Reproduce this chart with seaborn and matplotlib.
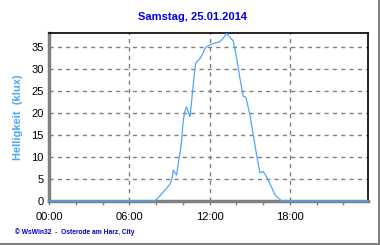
import matplotlib
matplotlib.use("Agg")
import matplotlib.pyplot as plt
from matplotlib.lines import Line2D
import seaborn as sns
import pandas as pd

hours = [0.0, 7.92, 8.3, 8.7, 9.04, 9.2, 9.29, 9.42, 9.54, 9.67, 9.8, 9.92, 10.04, 10.17,
         10.29, 10.42, 10.54, 10.66, 10.79, 10.96, 11.12, 11.29, 11.5, 11.66, 11.85, 12.03,
         12.3, 12.53, 12.75, 12.9, 13.1, 13.28, 13.5, 13.78, 14.03, 14.27, 14.52, 14.72,
         15.02, 15.27, 15.52, 15.77, 16.02, 16.2, 16.39, 16.6, 16.77, 16.95, 17.14, 17.39, 23.83]
lux = [0.0, 0.0, 1.2, 2.6, 3.8, 5.0, 7.0, 6.4, 5.9, 8.6, 11.0, 13.9, 18.4, 20.5,
       21.4, 20.2, 19.2, 22.6, 26.7, 31.3, 31.9, 32.4, 33.5, 34.7, 35.2, 35.5,
       35.8, 36.0, 36.2, 36.6, 37.3, 38.1, 37.3, 36.4, 32.5, 28.0, 23.8, 23.6,
       19.6, 15.1, 10.5, 6.4, 6.7, 5.8, 4.8, 3.4, 2.2, 1.2, 0.7, 0.0, 0.0]
xticks = [0, 6, 12, 18]
xticklabels = ["00:00", "06:00", "12:00", "18:00"]
yticks = [0, 5, 10, 15, 20, 25, 30, 35]

df = pd.DataFrame({"h": hours, "v": lux})

sns.set_theme(style="white")
plt.rcParams["font.family"] = ["Liberation Sans", "DejaVu Sans"]

fig = plt.figure(figsize=(3.8, 2.45), dpi=100)
fig.patch.set_facecolor("white")
ax = fig.add_axes([49/380, 1-201/245, (368-49)/380, (201-33)/245])

ax.grid(True, axis="both", linestyle=(0, (3, 3)), color="#808080", linewidth=1)
ax.set_axisbelow(True)
sns.lineplot(data=df, x="h", y="v", ax=ax, color="#4da6ff", linewidth=0.9,
             clip_on=False, zorder=5)

ax.set_xlim(0, 23.85)
ax.set_ylim(0, 38.2)
ax.set_xticks(xticks)
ax.set_xticklabels(xticklabels)
ax.set_yticks(yticks)
ax.set_xticks([2, 4, 8, 10, 14, 16, 20, 22], minor=True)
ax.tick_params(axis="x", which="both", direction="out", length=3, width=1,
               color="#808080", labelsize=8, pad=5, labelcolor="black", bottom=True)
ax.tick_params(axis="y", which="both", length=0, labelsize=8, pad=4, labelcolor="black", left=False)
ax.set_xlabel("")
ax.set_ylabel("Helligkeit  (klux)", color="#4da6ff", fontsize=8, fontweight="bold", labelpad=6)

for s in ["top", "right"]:
    ax.spines[s].set_color("black")
    ax.spines[s].set_linewidth(1.2)
for s in ["left", "bottom"]:
    ax.spines[s].set_color("#808080")
    ax.spines[s].set_linewidth(2.5)
    ax.spines[s].set_visible(True)

fig.text(192/380, 1-17/245, "Samstag, 25.01.2014", color="#0000ee", fontsize=8,
         fontweight="bold", ha="center", va="center")
fig.text(15/380, 1-232/245, "\u00a9 WsWin32  -  Osterode am Harz, City", color="#0000cc",
         fontsize=4.8, fontweight="bold", ha="left", va="center")

fig.add_artist(Line2D([379/380, 379/380], [0, 1], color="#808080", linewidth=1.5,
                      transform=fig.transFigure))
fig.add_artist(Line2D([0, 1], [1/245, 1/245], color="#808080", linewidth=1.5,
                      transform=fig.transFigure))

fig.savefig("out.png", dpi=100, facecolor="white")
